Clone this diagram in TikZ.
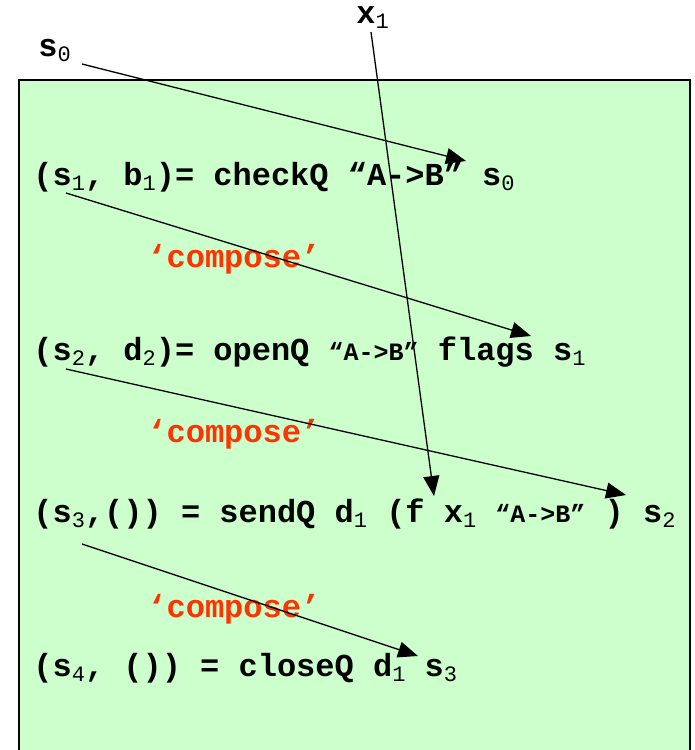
\documentclass[tikz,border=0pt]{standalone}
\usepackage{fontspec}
\setmainfont{Liberation Mono}
\usetikzlibrary{arrows.meta}

\definecolor{panel}{HTML}{CCFFCC}
\definecolor{composeclr}{HTML}{FF3300}

\newcommand\ix[1]{\raisebox{-2.5pt}{\fontsize{11}{11}\mdseries\selectfont#1}}
\newcommand\arrowq{{\fontsize{12.5}{12.5}\selectfont “A->B”}}

\tikzset{
  code/.style={anchor=base west,inner sep=0pt,font=\fontsize{16}{16}\bfseries\selectfont},
  glue/.style={code,text=composeclr},
  flow/.style={line width=0.65pt,-{Triangle[length=10pt,width=8pt]}},
}

\begin{document}
\begin{tikzpicture}[x=0.5pt,y=-0.5pt]
\useasboundingbox (0,0) rectangle (695,750);
\clip (0,0) rectangle (695,750);

\draw[fill=panel,line width=0.75pt] (19,80) rectangle (690,760);

% inputs
\node[code] (s0lbl) at (38,56) {s\ix{0}};
\node[code] (x1lbl) at (356,23) {x\ix{1}};

% the four actions
\node[code] (check) at (33,185) {(s\ix{1}, b\ix{1})= checkQ “A->B” s\ix{0}};
\node[code] (open)  at (33,360) {(s\ix{2}, d\ix{2})= openQ \arrowq{} flags s\ix{1}};
\node[code] (send)  at (33,522) {(s\ix{3},()) = sendQ d\ix{1} (f x\ix{1} \arrowq{} ) s\ix{2}};
\node[code] (close) at (33,676) {(s\ix{4}, ()) = closeQ d\ix{1} s\ix{3}};

\node[glue] (glueA) at (147,267) {‘compose’};
\node[glue] (glueB) at (147,442) {‘compose’};
\node[glue] (glueC) at (147,617) {‘compose’};

% where the state is threaded
\coordinate (s0out) at (82,64);
\coordinate (s0in)  at (466,161);
\coordinate (x1out) at (371,32);
\coordinate (x1in)  at (434,496);
\coordinate (s1out) at (66,193);
\coordinate (s1in)  at (531,336);
\coordinate (s2out) at (66,369);
\coordinate (s2in)  at (626,495);
\coordinate (s3out) at (82,544);
\coordinate (s3in)  at (418,656);

\draw[flow] (s0out) -- (s0in);
\draw[flow] (x1out) -- (x1in);
\draw[flow] (s1out) -- (s1in);
\draw[flow] (s2out) -- (s2in);
\draw[flow] (s3out) -- (s3in);
\end{tikzpicture}
\end{document}
